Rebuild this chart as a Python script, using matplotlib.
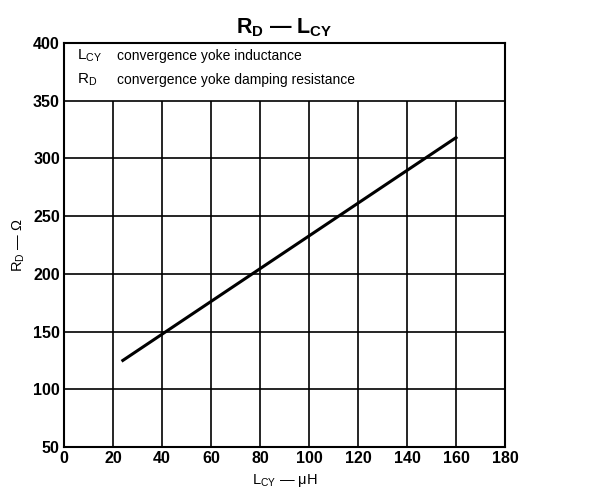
import numpy as np
import matplotlib
matplotlib.use('Agg')
import matplotlib.pyplot as plt

# R_D versus L_CY characteristic
lcy = [24, 160]
rd = [125, 318]

xticks = [0, 20, 40, 60, 80, 100, 120, 140, 160, 180]
yticks = [50, 100, 150, 200, 250, 300, 350, 400]

plt.rcParams['font.family'] = ['Liberation Sans', 'DejaVu Sans']
plt.rcParams['mathtext.fontset'] = 'custom'
plt.rcParams['mathtext.rm'] = 'Liberation Sans'
plt.rcParams['mathtext.bf'] = 'Liberation Sans:bold'

fig = plt.figure(figsize=(5.95, 4.99), dpi=100)
ax = fig.add_axes([0.1076, 0.1042, 0.7411, 0.8096])

ax.set_xlim(0, 180)
ax.set_ylim(50, 400)

# grid: verticals only below the legend band, horizontals everywhere
ax.vlines(xticks[1:-1], 50, 350, color='black', lw=1.2)
ax.hlines(yticks[1:-1], 0, 180, color='black', lw=1.2)

ax.plot(lcy, rd, color='black', lw=2.2)

ax.text(5.5, 389, r'L$_{\mathrm{CY}}$', fontsize=11, va='center')
ax.text(21.5, 389, 'convergence yoke inductance', fontsize=10, va='center')
ax.text(5.5, 368, r'R$_{\mathrm{D}}$', fontsize=11, va='center')
ax.text(21.5, 368, 'convergence yoke damping resistance', fontsize=10, va='center')

ax.set_xticks(xticks)
ax.set_yticks(yticks)
ax.tick_params(length=0, labelsize=11.5, pad=3)
for lab in ax.get_xticklabels() + ax.get_yticklabels():
    lab.set_fontweight('bold')

for s in ax.spines.values():
    s.set_linewidth(1.5)

ax.set_xlabel(r'L$_{\mathrm{CY}}$ — μH', fontsize=10.5, labelpad=4)
ax.set_ylabel(r'R$_{\mathrm{D}}$ — Ω', fontsize=10.5, labelpad=4)
ax.set_title(r'R$_{\mathbf{D}}$ — L$_{\mathbf{CY}}$', fontsize=15.5, fontweight='bold', pad=7)

plt.savefig('out.png', dpi=100)
